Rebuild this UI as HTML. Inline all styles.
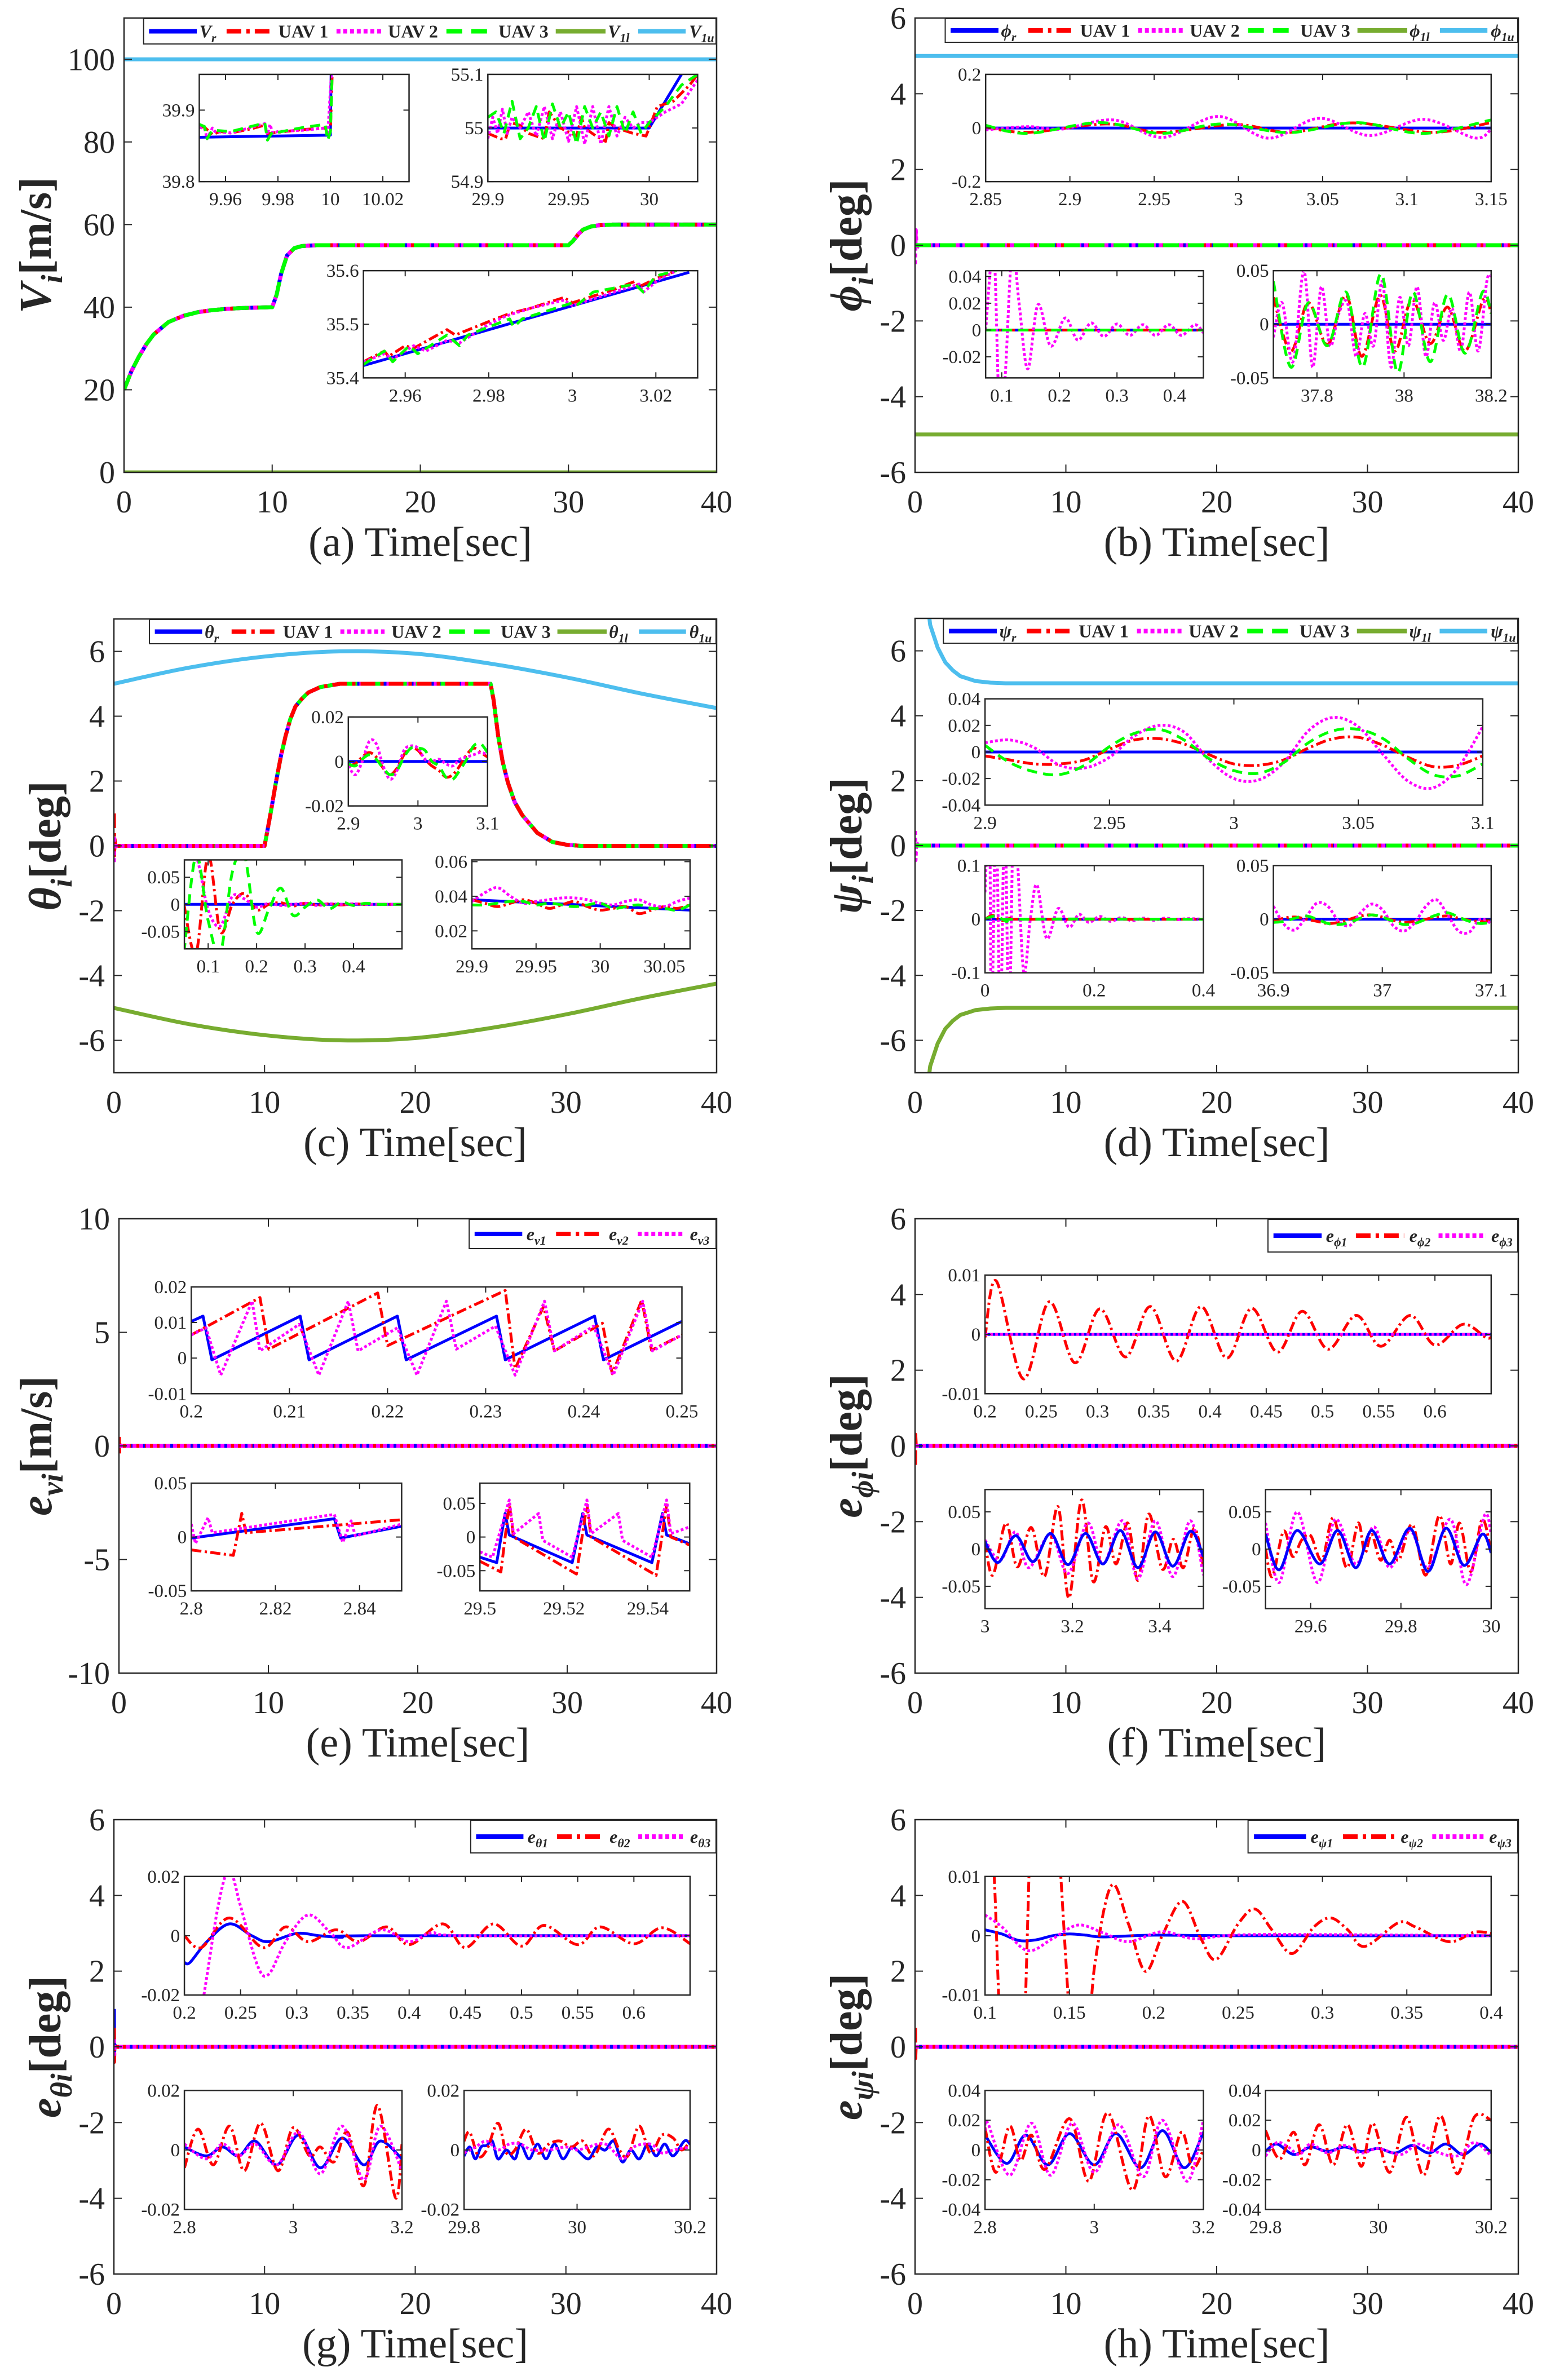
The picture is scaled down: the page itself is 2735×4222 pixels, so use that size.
<!DOCTYPE html>
<html><head><meta charset="utf-8"><title>UAV tracking results</title>
<style>
html,body{margin:0;padding:0;background:#fff;}
svg{display:block;font-family:"Liberation Serif","DejaVu Serif",serif;}
</style></head>
<body>
<svg id="fig" xmlns="http://www.w3.org/2000/svg" width="2735" height="4222" viewBox="0 0 2735 4222">
<rect x="0" y="0" width="2735" height="4222" fill="#ffffff"/>
</svg>
<script>
// ===================== DATA =====================
// (a) speed
const aTime=[0,0.5,1,1.5,2,3,4,5,6,7,8,9,10,10.3,10.6,11,11.5,12,13,15,20,25,30,30.3,30.7,31,31.5,32,33,35,40];
const aVr=[20,24.5,28,31,33.4,36.4,37.9,38.8,39.3,39.6,39.8,39.9,40,43,48,52.5,54.3,54.8,55,55,55,55,55,56,57.8,58.8,59.5,59.8,60,60,60];
const aBoundT=[0,40];
const aLower=[0,0];
const aUpper=[100,100];
const a1VrT=[9.95,10.0,10.0004];
const a1Vr=[39.862,39.865,39.99];
const a1U1T=[9.95,9.952,9.955,9.958,9.962,9.97,9.975,9.976,9.98,9.99,9.998,9.999,10.0,10.001];
const a1U1=[39.877,39.876,39.866,39.870,39.868,39.874,39.879,39.867,39.869,39.873,39.875,39.867,39.868,39.99];
const a1U2T=[9.95,9.952,9.953,9.955,9.956,9.962,9.975,9.976,9.977,9.978,9.98,9.99,9.998,9.999,10.001];
const a1U2=[39.876,39.874,39.860,39.875,39.870,39.868,39.881,39.866,39.880,39.868,39.870,39.872,39.875,39.867,39.99];
const a1U3T=[9.95,9.952,9.953,9.955,9.962,9.975,9.976,9.978,9.98,9.99,9.998,9.999,10.0,10.001];
const a1U3=[39.880,39.877,39.860,39.872,39.870,39.882,39.858,39.870,39.869,39.876,39.880,39.858,39.870,39.99];
const a2VrT=[29.9,30.0,30.02];
const a2Vr=[55,55,55.1];
const a2U1T=[29.9,29.908,29.911,29.914,29.92,29.925,29.935,29.938,29.945,29.955,29.958,29.96,29.967,29.973,29.975,29.98,29.99,29.998,30.0,30.005,30.015,30.025,30.03];
const a2U1=[54.99,54.98,54.98,55.01,55.005,54.99,54.98,55.03,55.0,54.985,55.02,55.0,54.985,54.975,55.01,55.0,54.99,54.985,55.0,55.04,55.05,55.08,55.1];
const a2U2T=[29.9,29.903,29.906,29.909,29.912,29.915,29.92,29.925,29.93,29.935,29.94,29.945,29.95,29.955,29.96,29.965,29.97,29.975,29.98,29.985,29.99,29.995,30.0,30.01,30.02,30.03];
const a2U2=[54.98,55.02,54.99,55.035,54.99,55.02,55.0,55.03,54.985,55.04,54.98,55.03,54.975,55.04,54.97,55.04,54.97,55.04,54.985,55.02,55.0,55.01,55.01,55.03,55.045,55.09];
const a2U3T=[29.9,29.905,29.91,29.915,29.92,29.925,29.93,29.935,29.94,29.945,29.95,29.955,29.96,29.965,29.97,29.975,29.98,29.985,29.99,29.995,30.0,30.01,30.02,30.03];
const a2U3=[55.02,55.03,54.99,55.05,54.98,55.0,55.04,54.975,55.045,55.0,55.03,54.97,55.04,55.0,55.03,54.985,55.04,54.99,55.03,54.99,55.01,55.04,55.08,55.1];
const a3VrT=[2.95,3.028];
const a3Vr=[35.423,35.597];
const a3U1T=[2.95,2.955,2.956,2.96,2.962,2.97,2.972,2.98,2.985,2.99,2.998,3.0,3.01,3.015,3.016,3.02,3.025];
const a3U1=[35.43,35.45,35.44,35.46,35.455,35.49,35.48,35.505,35.52,35.53,35.55,35.54,35.565,35.58,35.57,35.585,35.6];
const a3U2T=[2.95,2.955,2.957,2.962,2.965,2.97,2.973,2.98,2.984,2.99,2.998,3.0,3.01,3.016,3.017,3.021,3.025];
const a3U2=[35.43,35.445,35.435,35.46,35.45,35.47,35.465,35.5,35.515,35.53,35.545,35.535,35.56,35.575,35.56,35.585,35.6];
const a3U3T=[2.95,2.955,2.957,2.961,2.963,2.97,2.973,2.975,2.985,2.986,2.988,3.0,3.001,3.005,3.015,3.017,3.02,3.025];
const a3U3=[35.425,35.45,35.43,35.46,35.445,35.48,35.46,35.48,35.51,35.495,35.51,35.54,35.535,35.56,35.575,35.56,35.59,35.6];

// (b) roll
const bT=[0,40];
const bZero=[0,0];
const bLower=[-5,-5];
const bUpper=[5,5];
const bSpikeT=[0,0.05,0.1,0.2,40];
const bSpikeU2=[-0.5,0.4,-0.1,0,0];
const btRedT=[2.85,2.875,2.922,2.954,2.998,3.03,3.068,3.115,3.15];
const btRed=[0.003,-0.016,0.015,-0.016,0.013,-0.016,0.019,-0.016,0.02];
const btGreenT=[2.85,2.875,2.918,2.954,2.99,3.03,3.07,3.11,3.15];
const btGreen=[0.01,-0.02,0.02,-0.02,0.015,-0.017,0.02,-0.02,0.03];
const btMagT=[2.85,2.875,2.895,2.926,2.955,2.988,3.018,3.048,3.078,3.11,3.14,3.15];
const btMag=[-0.007,0.005,-0.004,0.03,-0.035,0.043,-0.038,0.036,-0.028,0.032,-0.037,-0.005];
const bblMagT=[0.072,0.086,0.095,0.105,0.118,0.13,0.145,0.163,0.185,0.21,0.232,0.255,0.277,0.3,0.322,0.345,0.367,0.39,0.412,0.435,0.45];
const bblMag=[0.0,0.06,-0.05,-0.04,0.06,0.02,-0.029,0.019,-0.012,0.009,-0.0075,0.0053,-0.0048,0.0045,-0.004,0.004,-0.004,0.004,-0.004,0.004,-0.002];
const bbrRedT=[37.7,37.74,37.78,37.824,37.867,37.903,37.945,37.979,38.018,38.06,38.1,38.14,38.182,38.2];
const bbrRed=[0.025,-0.025,0.02,-0.019,0.027,-0.03,0.027,-0.025,0.023,-0.018,0.016,-0.025,0.023,0.011];
const bbrGreenT=[37.7,37.74,37.78,37.824,37.867,37.905,37.947,37.985,38.02,38.06,38.1,38.14,38.18,38.2];
const bbrGreen=[0.04,-0.04,0.02,-0.02,0.03,-0.04,0.047,-0.045,0.03,-0.035,0.028,-0.027,0.03,0.01];
const bbrMagT=[37.7,37.72,37.745,37.77,37.79,37.81,37.83,37.85,37.87,37.89,37.91,37.93,37.95,37.97,37.99,38.01,38.03,38.05,38.07,38.09,38.11,38.13,38.15,38.17,38.19,38.2];
const bbrMag=[-0.012,0.02,-0.035,0.05,-0.04,0.035,-0.02,0.01,0.02,-0.03,0.01,-0.02,0.04,-0.04,0.025,-0.02,0.035,-0.03,0.02,-0.015,0.015,-0.025,0.03,-0.025,0.04,0.045];

// (c) pitch
const cT=[0,10,10.4,10.75,11.1,11.4,11.7,12.05,12.5,12.9,13.7,15,25,25.2,25.5,25.8,26.15,26.6,27.1,28.1,29.1,30.1,31,40];
const cTheta=[0,0,1.0,1.95,2.8,3.4,3.9,4.3,4.55,4.73,4.9,5,5,4.5,3.4,2.6,1.95,1.35,0.95,0.4,0.12,0.03,0,0];
const cBoundT=[0,5,10,15,20,25,30,35,40];
const cUpper=[5,5.5,5.84,6.0,5.93,5.62,5.2,4.7,4.25];
const cLower=[-5,-5.5,-5.84,-6.0,-5.93,-5.62,-5.2,-4.7,-4.25];
const cSpikeT=[0,0.02,0.05,0.1,0.2,10];
const cSpikeU1=[1.0,-0.3,0.2,0,0,0];
const cSpikeU2=[-0.5,0.3,-0.1,0,0,0];
const ctT=[2.9,2.91,2.92,2.93,2.94,2.95,2.96,2.97,2.98,2.99,3.0,3.01,3.02,3.03,3.04,3.05,3.06,3.07,3.08,3.09,3.1];
const ctRed=[-0.002,-0.001,0.002,0.004,0.002,-0.003,-0.006,-0.003,0.003,0.006,0.005,0.001,-0.002,-0.004,-0.007,-0.006,-0.002,0.003,0.006,0.004,0.002];
const ctMag=[-0.002,-0.006,0.0,0.009,0.008,-0.002,-0.008,-0.004,0.005,0.007,0.006,0.001,0.0,0.001,-0.001,-0.002,0.001,0.002,0.003,0.004,0.003];
const ctGreen=[-0.001,-0.002,0.001,0.003,0.001,-0.003,-0.006,-0.004,0.002,0.006,0.006,0.005,0.0,-0.002,-0.007,-0.008,-0.004,0.001,0.007,0.008,0.004];
const cblT=[0.05,0.075,0.1,0.125,0.15,0.175,0.2,0.225,0.25,0.275,0.3,0.325,0.35,0.375,0.4,0.425,0.45,0.475,0.5];
const cblRed=[0.0,-0.09,0.09,-0.05,0.0,0.02,-0.01,0.0,0.003,-0.003,0.002,-0.001,0.001,-0.001,0.001,0,0,0,0];
const cblMag=[0.09,0.09,-0.01,-0.04,0.015,0.01,-0.005,0.002,-0.002,0.0,0.002,-0.002,0.001,0.0,0.001,0,0,0,0];
const cblGreen=[-0.09,0.09,-0.03,-0.09,0.06,0.09,-0.05,-0.01,0.03,-0.02,-0.005,0.008,-0.008,0.004,-0.002,0.002,0,0,0];
const cbrBlueT=[29.9,30.07];
const cbrBlue=[0.038,0.032];
const cbrT=[29.9,29.91,29.92,29.93,29.94,29.95,29.96,29.97,29.98,29.99,30.0,30.01,30.02,30.03,30.04,30.05,30.06,30.07];
const cbrRed=[0.038,0.036,0.034,0.036,0.038,0.036,0.033,0.035,0.037,0.034,0.032,0.033,0.034,0.030,0.032,0.034,0.033,0.035];
const cbrMag=[0.037,0.042,0.045,0.04,0.036,0.037,0.038,0.039,0.039,0.038,0.036,0.035,0.037,0.038,0.035,0.034,0.037,0.039];
const cbrGreen=[0.035,0.035,0.036,0.037,0.037,0.035,0.036,0.035,0.034,0.035,0.036,0.033,0.034,0.035,0.033,0.033,0.032,0.035];

// (d) yaw
const dBoundT=[0.9,1,1.5,2,2.5,3,4,5,6,40];
const dUpper=[7.2,6.8,6.1,5.65,5.4,5.22,5.07,5.02,5,5];
const dLower=[-7.2,-6.8,-6.1,-5.65,-5.4,-5.22,-5.07,-5.02,-5,-5];
const dSpikeT=[0,0.03,0.08,0.2,40];
const dSpikeU2=[0.45,-0.45,0.1,0,0];
const dtT=[2.9,2.91,2.92,2.93,2.94,2.95,2.96,2.97,2.98,2.99,3.0,3.01,3.02,3.03,3.04,3.05,3.06,3.07,3.08,3.09,3.1];
const dtRed=[-0.003,-0.006,-0.009,-0.009,-0.006,0.002,0.009,0.01,0.006,-0.002,-0.009,-0.01,-0.006,0.003,0.01,0.011,0.005,-0.004,-0.011,-0.01,-0.003];
const dtGreen=[0.005,-0.008,-0.015,-0.017,-0.01,0.004,0.014,0.017,0.009,-0.005,-0.014,-0.016,-0.008,0.007,0.016,0.017,0.01,-0.005,-0.017,-0.018,-0.009];
const dtMag=[0.007,0.009,0.003,-0.01,-0.012,-0.004,0.012,0.02,0.015,-0.006,-0.02,-0.021,-0.008,0.016,0.026,0.019,-0.002,-0.022,-0.027,-0.012,0.019];
const dblMagT=[0,0.008,0.012,0.02,0.028,0.036,0.044,0.052,0.06,0.071,0.083,0.095,0.113,0.134,0.154,0.172,0.19,0.21,0.23,0.25,0.27,0.29,0.31,0.33,0.35,0.37,0.4];
const dblMag=[0.05,0.2,-0.2,0.2,-0.2,0.2,-0.2,0.2,0.1,-0.1,0.0,0.064,-0.036,0.02,-0.015,0.009,-0.006,0.005,-0.004,0.003,-0.003,0.002,-0.002,0.002,-0.001,0.001,0];
const dblRedT=[0,0.015,0.03,0.05,0.07,0.4];
const dblRed=[0,0.007,-0.003,0.002,0,0];
const dblGreenT=[0,0.02,0.04,0.06,0.4];
const dblGreen=[0,0.006,-0.004,0,0];
const dbrT=[36.9,36.91,36.92,36.93,36.94,36.95,36.96,36.97,36.98,36.99,37.0,37.01,37.02,37.03,37.04,37.05,37.06,37.07,37.08,37.09,37.1];
const dbrMag=[0.012,-0.005,-0.01,0.002,0.015,0.012,-0.002,-0.006,0.006,0.014,0.009,-0.006,-0.011,-0.003,0.012,0.018,0.004,-0.011,-0.012,0.0,-0.004];
const dbrRed=[-0.002,0.001,0.002,0.0,-0.002,-0.004,-0.003,0.0,0.003,0.004,0.002,-0.001,-0.003,-0.002,0.0,0.002,0.003,0.001,-0.001,-0.002,-0.001];
const dbrGreen=[-0.003,-0.002,0.001,0.003,0.0,-0.004,-0.005,-0.003,0.001,0.004,0.002,-0.002,-0.005,-0.004,0.0,0.004,0.006,0.002,-0.002,-0.004,-0.003];

// (e) speed errors
const eT=[0,40];
const eZero=[0,0];
const eSpikeT=[0,0.01,0.02,0.1,40];
const eSpikeU2=[0.4,-0.4,0.1,0,0];
const etBlueT=[0.2,0.2012,0.2021,0.2111,0.212,0.221,0.2219,0.2311,0.232,0.2411,0.242,0.25];
const etBlue=[0.0103,0.0118,-0.0005,0.0118,-0.0005,0.0118,-0.0005,0.0118,-0.0005,0.0118,-0.0005,0.0103];
const etRedT=[0.2,0.207,0.2079,0.219,0.22,0.232,0.233,0.2359,0.237,0.2419,0.2429,0.2459,0.2469,0.25];
const etRed=[0.0065,0.017,0.0025,0.0183,0.0035,0.019,-0.003,0.0145,0.002,0.0098,-0.0044,0.0163,0.0022,0.0065];
const etMagT=[0.2,0.2015,0.203,0.2062,0.207,0.211,0.213,0.216,0.217,0.221,0.223,0.226,0.227,0.231,0.233,0.236,0.237,0.241,0.243,0.246,0.247,0.25];
const etMag=[0.0065,0.0085,-0.0048,0.016,0.002,0.0095,-0.0048,0.016,0.002,0.0085,-0.0048,0.016,0.0025,0.009,-0.0048,0.016,0.002,0.009,-0.0048,0.016,0.002,0.0065];
const eblBlueT=[2.8,2.834,2.8355,2.85];
const eblBlue=[-0.001,0.017,-0.001,0.01];
const eblRedT=[2.8,2.81,2.812,2.813,2.85];
const eblRed=[-0.012,-0.017,0.022,0.004,0.016];
const eblMagT=[2.8,2.801,2.804,2.805,2.834,2.836,2.838,2.839,2.85];
const eblMag=[0.012,-0.006,0.018,0.004,0.021,-0.005,0.015,0.001,0.012];
const ebrBlueT=[29.5,29.504,29.506,29.507,29.522,29.5245,29.5255,29.541,29.5435,29.5445,29.55];
const ebrBlue=[-0.03,-0.038,0.035,0.003,-0.038,0.035,0.003,-0.038,0.035,0.003,-0.01];
const ebrRedT=[29.5,29.505,29.507,29.508,29.523,29.5255,29.5265,29.542,29.5445,29.5455,29.55];
const ebrRed=[-0.036,-0.052,0.05,0.0,-0.055,0.048,0.0,-0.057,0.048,0.0,-0.012];
const ebrMagT=[29.5,29.503,29.507,29.508,29.514,29.515,29.522,29.5255,29.5265,29.533,29.534,29.541,29.5445,29.5455,29.55];
const ebrMag=[-0.022,-0.03,0.055,0.005,0.035,-0.005,-0.03,0.055,0.005,0.035,-0.005,-0.03,0.055,0.005,0.015];

// (f) roll errors
const fSpikeT=[0,0.01,0.05,40];
const fSpikeU2=[-0.5,0.3,0,0];
const ftRedT=[0.2,0.21,0.234,0.257,0.28,0.302,0.325,0.347,0.37,0.392,0.415,0.437,0.46,0.482,0.505,0.53,0.552,0.578,0.6,0.625,0.645,0.65];
const ftRed=[-0.0005,0.009,-0.0075,0.0055,-0.0048,0.0043,-0.0038,0.0047,-0.0045,0.0047,-0.004,0.0044,-0.003,0.0039,-0.0025,0.0032,-0.002,0.0032,-0.0018,0.0017,-0.0005,-0.0005];
const fZeroT=[0.2,0.65];
const fZeroV=[0,0];
const fblBlueT=[3.0,3.03,3.07,3.11,3.15,3.19,3.23,3.27,3.31,3.35,3.39,3.43,3.47,3.5];
const fblBlue=[0.01,-0.018,0.018,-0.017,0.021,-0.021,0.021,-0.02,0.025,-0.025,0.023,-0.023,0.024,-0.01];
const fblRedT=[3.0,3.018,3.048,3.074,3.106,3.136,3.167,3.192,3.221,3.248,3.276,3.3,3.327,3.35,3.375,3.406,3.431,3.454,3.479,3.499];
const fblRed=[0.009,-0.035,0.035,-0.024,0.029,-0.037,0.057,-0.066,0.066,-0.044,0.03,-0.02,0.035,-0.042,0.047,-0.027,0.013,-0.025,0.028,-0.02];
const fblMagT=[3.0,3.035,3.07,3.1,3.15,3.19,3.235,3.27,3.315,3.35,3.39,3.43,3.47,3.5];
const fblMag=[0.012,-0.015,0.023,-0.025,0.02,-0.033,0.035,-0.02,0.038,-0.04,0.038,-0.037,0.038,-0.035];
const fbrBlueT=[29.5,29.53,29.57,29.62,29.66,29.7,29.735,29.775,29.82,29.86,29.9,29.94,29.98,30];
const fbrBlue=[0.02,-0.028,0.025,-0.02,0.025,-0.025,0.025,-0.02,0.028,-0.03,0.028,-0.022,0.02,-0.005];
const fbrRedT=[29.5,29.515,29.54,29.56,29.58,29.6,29.625,29.65,29.68,29.705,29.72,29.735,29.755,29.775,29.795,29.825,29.855,29.885,29.91,29.93,29.955,29.98,30];
const fbrRed=[0.0,-0.037,0.024,-0.01,0.012,0.018,-0.015,0.042,-0.025,0.035,-0.005,0.02,-0.015,0.012,-0.015,0.033,-0.035,0.045,-0.02,0.035,-0.03,0.04,-0.005];
const fbrMagT=[29.5,29.53,29.57,29.615,29.655,29.7,29.74,29.775,29.82,29.86,29.91,29.945,29.985,30];
const fbrMag=[0.035,-0.045,0.05,-0.045,0.04,-0.02,0.03,-0.025,0.025,-0.025,0.04,-0.048,0.045,0.02];

// (g) pitch errors
const gSpikeT=[0,0.01,0.05,0.1,40];
const gSpikeU1=[1.0,-0.2,0.05,0,0];
const gSpikeU2=[0.5,-0.4,0.1,0,0];
const gSpikeU3=[0.2,-0.2,0,0,0];
const gtBlueT=[0.2,0.205,0.22,0.24,0.26,0.275,0.3,0.32,0.34,0.36,0.65];
const gtBlue=[-0.009,-0.009,-0.002,0.004,0.0,-0.002,0.0008,0.0,-0.0005,0.0,0.0];
const gtRedT=[0.2,0.215,0.24,0.27,0.29,0.31,0.335,0.355,0.38,0.4,0.43,0.45,0.475,0.5,0.52,0.55,0.57,0.6,0.625,0.65];
const gtRed=[0.0,-0.004,0.006,-0.004,0.003,-0.002,0.002,-0.002,0.003,-0.003,0.004,-0.004,0.004,-0.0035,0.0035,-0.003,0.003,-0.0027,0.0027,-0.0027];
const gtMagT=[0.2,0.215,0.23,0.24,0.25,0.265,0.275,0.29,0.31,0.33,0.345,0.375,0.4,0.42,0.45,0.65];
const gtMag=[-0.05,-0.025,0.01,0.022,0.01,-0.01,-0.013,-0.002,0.007,0.001,-0.004,0.002,-0.002,0.001,0.0,0.0];
const gblBlueT=[2.8,2.84,2.87,2.9,2.93,2.97,3.01,3.05,3.09,3.13,3.16,3.2];
const gblBlue=[0.001,-0.002,0.001,-0.002,0.003,-0.005,0.005,-0.006,0.004,-0.005,0.003,-0.003];
const gblRedT=[2.8,2.825,2.853,2.883,2.91,2.94,2.972,3.0,3.03,3.05,3.075,3.1,3.13,3.155,3.188,3.2];
const gblRed=[-0.006,0.007,-0.005,0.008,-0.007,0.009,-0.007,0.0075,-0.002,0.001,-0.004,0.006,-0.012,0.015,-0.016,0.002];
const gblMagT=[2.8,2.84,2.87,2.9,2.93,2.97,3.01,3.05,3.09,3.13,3.16,3.2];
const gblMag=[0.002,-0.003,0.002,-0.002,0.002,-0.005,0.006,-0.008,0.008,-0.01,0.008,-0.007];
const gbrBlueT=[29.8,29.81,29.82,29.83,29.84,29.85,29.86,29.875,29.89,29.9,29.915,29.93,29.945,29.96,29.975,29.99,30.0,30.02,30.035,30.05,30.065,30.08,30.095,30.11,30.125,30.14,30.155,30.17,30.19,30.2];
const gbrBlue=[-0.002,0.001,-0.003,0.001,0.0015,0.003,-0.003,0.0,-0.003,0.002,-0.003,0.002,-0.003,0.002,-0.003,0.001,0.0,-0.003,0.001,0.0,0.003,-0.004,0.0,-0.003,0.002,-0.002,0.002,-0.002,0.003,0.002];
const gbrRedT=[29.8,29.81,29.825,29.84,29.86,29.875,29.89,29.91,29.93,29.95,29.97,29.99,30.01,30.03,30.055,30.075,30.09,30.11,30.13,30.15,30.17,30.185,30.2];
const gbrRed=[0.003,0.006,-0.002,0.0,0.009,-0.001,0.0,0.007,-0.001,0.002,0.003,0.001,0.003,-0.002,0.007,0.0,-0.002,0.008,-0.001,0.005,0.004,0.0,0.003];
const gbrMagT=[29.8,29.82,29.84,29.86,29.88,29.9,29.92,29.95,29.98,30.0,30.02,30.05,30.08,30.1,30.13,30.15,30.17,30.2];
const gbrMag=[-0.001,0.001,0.003,0.0,0.002,0.002,0.0,0.0,0.001,0.0,0.001,0.002,-0.003,0.001,0.002,-0.001,0.0,0.001];

// (h) yaw errors
const hSpikeT=[0,0.01,0.05,0.1,40];
const hSpikeU2=[0.5,-0.3,0.1,0,0];
const htBlueT=[0.1,0.11,0.12,0.13,0.14,0.15,0.16,0.17,0.2,0.25,0.4];
const htBlue=[0.001,0.0003,-0.0008,-0.0007,0.0,0.0003,0.0001,-0.0002,0.0001,0.0,0.0];
const htRedT=[0.1,0.105,0.11,0.12,0.13,0.14,0.155,0.165,0.175,0.185,0.195,0.205,0.217,0.228,0.237,0.25,0.26,0.27,0.282,0.295,0.305,0.315,0.325,0.345,0.355,0.375,0.39,0.4];
const htRed=[0.02,0.012,-0.02,-0.04,0.04,0.03,-0.03,-0.005,0.0085,0.002,-0.006,0.0,0.0058,-0.0005,-0.004,0.002,0.0045,0.001,-0.003,0.0015,0.003,0.001,-0.0018,0.0022,0.0015,-0.001,0.0006,0.0004];
const htMagT=[0.1,0.11,0.125,0.14,0.155,0.17,0.185,0.205,0.225,0.26,0.4];
const htMag=[0.0035,0.0015,-0.0025,-0.0005,0.0018,0.0005,-0.001,0.0007,-0.0005,0.0002,0.0];
const hblBlueT=[2.8,2.84,2.875,2.915,2.955,3.0,3.04,3.085,3.125,3.165,3.2];
const hblBlue=[0.01,-0.009,0.01,-0.01,0.011,-0.01,0.011,-0.012,0.013,-0.012,0.012];
const hblRedT=[2.8,2.82,2.845,2.865,2.885,2.91,2.955,2.99,3.025,3.07,3.1,3.13,3.16,3.18,3.2];
const hblRed=[0.015,-0.015,0.016,-0.007,0.01,-0.013,0.021,-0.021,0.025,-0.027,0.023,-0.018,0.012,-0.012,0.0];
const hblMagT=[2.8,2.805,2.845,2.885,2.92,2.96,3.0,3.045,3.09,3.125,3.17,3.2];
const hblMag=[0.013,0.018,-0.017,0.018,-0.017,0.018,-0.015,0.017,-0.018,0.02,-0.021,0.02];
const hbrBlueT=[29.8,29.82,29.85,29.88,29.91,29.94,29.97,30.0,30.03,30.06,30.09,30.12,30.15,30.18,30.2];
const hbrBlue=[-0.001,0.004,-0.003,0.002,-0.001,0.002,-0.001,0.001,-0.002,0.003,-0.002,0.004,-0.003,0.004,-0.002];
const hbrRedT=[29.8,29.825,29.85,29.87,29.895,29.92,29.945,29.97,29.99,30.02,30.05,30.08,30.11,30.14,30.17,30.2];
const hbrRed=[0.013,-0.006,0.012,-0.01,0.017,-0.01,0.017,-0.011,0.018,-0.015,0.022,-0.017,0.023,-0.016,0.022,0.02];
const hbrMagT=[29.8,29.82,29.84,29.86,29.88,29.91,29.94,29.97,30.0,30.04,30.07,30.1,30.14,30.17,30.2];
const hbrMag=[-0.004,0.005,0.002,-0.003,0.004,-0.002,0.003,-0.002,0.001,-0.003,0.004,-0.001,-0.004,0.005,-0.004];

// tick values
const mainXTicks=[0,10,20,30,40];
const aYTicks=[0,20,40,60,80,100];
const degYTicks=[-6,-4,-2,0,2,4,6];
const eYTicks=[-10,-5,0,5,10];

// ===================== RENDERING =====================
const NS='http://www.w3.org/2000/svg';
const svg=document.getElementById('fig');
let clipN=0;
function mk(tag,parent){const e=document.createElementNS(NS,tag);parent.appendChild(e);return e;}
function setA(e,o){for(const k in o)e.setAttribute(k,o[k]);}
const COL={blue:'#0000ff',red:'#ff0000',mag:'#ff00ff',green:'#00ff00',olive:'#77ac30',sky:'#4dbeee'};
function dashFor(kind,w){
  if(kind==='red')return w>6?'26 9 6 9':'18 6 4 6';
  if(kind==='mag')return w>6?'7 5':'5 4';
  if(kind==='green')return w>6?'28 16':'18 11';
  return null;
}
function axes(name,box,xlim,ylim,xt,yt,inset){
  const [x0,y0,x1,y1]=box;
  const sx=v=>x0+(v-xlim[0])/(xlim[1]-xlim[0])*(x1-x0);
  const sy=v=>y1-(v-ylim[0])/(ylim[1]-ylim[0])*(y1-y0);
  const g=mk('g',svg);
  
  
  const bg=mk('rect',g);
  setA(bg,{x:x0,y:y0,width:x1-x0,height:y1-y0,fill:'#ffffff'});
  
  
  const id='clip'+(clipN++);
  const cp=mk('clipPath',g);cp.setAttribute('id',id);
  const cr=mk('rect',cp);setA(cr,{x:x0,y:y0,width:x1-x0,height:y1-y0});
  const plot=mk('g',g);plot.setAttribute('clip-path','url(#'+id+')');
  
  
  const tl=inset?10:14, fs=inset?33:56;
  const tg=mk('g',g);
  
  
  xt.forEach(v=>{
    const x=sx(v);
    const t1=mk('line',tg);setA(t1,{x1:x,y1:y1,x2:x,y2:y1-tl,stroke:'#262626','stroke-width':2});
    const t2=mk('line',tg);setA(t2,{x1:x,y1:y0,x2:x,y2:y0+tl,stroke:'#262626','stroke-width':2});
    const lb=mk('text',tg);
    setA(lb,{x:x,y:y1+(inset?42:71),'text-anchor':'middle','font-size':fs,fill:'#262626'});
    lb.textContent=String(v);
    
    
  });
  yt.forEach(v=>{
    const y=sy(v);
    const t1=mk('line',tg);setA(t1,{x1:x0,y1:y,x2:x0+tl,y2:y,stroke:'#262626','stroke-width':2});
    const t2=mk('line',tg);setA(t2,{x1:x1,y1:y,x2:x1-tl,y2:y,stroke:'#262626','stroke-width':2});
    const lb=mk('text',tg);
    setA(lb,{x:x0-(inset?8:16),y:y+(inset?11:19),'text-anchor':'end','font-size':fs,fill:'#262626'});
    lb.textContent=String(v);
    
    
  });
  const fr=mk('rect',g);
  setA(fr,{x:x0,y:y0,width:x1-x0,height:y1-y0,fill:'none',stroke:'#262626','stroke-width':2.5});
  
  
  return {sx,sy,plot,g,box};
}
function series(ax,xs,ys,kind,w,name,smooth){
  const pts=xs.map((x,i)=>[ax.sx(x),ax.sy(ys[i])]);
  let d='M'+pts[0][0].toFixed(1)+','+pts[0][1].toFixed(1);
  for(let i=0;i<pts.length-1;i++){
    const p1=pts[i],p2=pts[i+1];
    if(smooth){
      const p0=pts[Math.max(0,i-1)],p3=pts[Math.min(pts.length-1,i+2)];
      const c1=[p1[0]+(p2[0]-p0[0])/6,p1[1]+(p2[1]-p0[1])/6];
      const c2=[p2[0]-(p3[0]-p1[0])/6,p2[1]-(p3[1]-p1[1])/6];
      d+='C'+c1[0].toFixed(1)+','+c1[1].toFixed(1)+' '+c2[0].toFixed(1)+','+c2[1].toFixed(1)+' '+p2[0].toFixed(1)+','+p2[1].toFixed(1);
    } else d+='L'+p2[0].toFixed(1)+','+p2[1].toFixed(1);
  }
  const p=mk('path',ax.plot);
  setA(p,{d:d,fill:'none',stroke:COL[kind],'stroke-width':w,'stroke-linejoin':'round','stroke-linecap':'butt'});
  const da=dashFor(kind,w);if(da)p.setAttribute('stroke-dasharray',da);
  
  
  return p;
}
function rich(parent,x,y,parts,fs,anchor,weight){
  const t=mk('text',parent);
  setA(t,{x:x,y:y,'font-size':fs,'text-anchor':anchor||'start',fill:'#262626','font-weight':weight||'normal'});
  let shift=0;
  parts.forEach(pt=>{
    const s=mk('tspan',t);
    s.textContent=pt[0];
    if(pt[1]==='it')s.setAttribute('font-style','italic');
    if(pt[1]==='sub'){
      s.setAttribute('font-style','italic');
      s.setAttribute('font-size',fs*0.68);
      s.setAttribute('dy',fs*0.25-shift);shift=fs*0.25;
    } else if(shift){s.setAttribute('dy',-shift);shift=0;}
  });
  return t;
}
const L6={ls:[0.0095,0.145,0.337,0.529,0.72,0.864],le:[0.093,0.223,0.415,0.607,0.807,0.947],tx:[0.0975,0.2355,0.427,0.62,0.811,0.953]};
const L3={ls:[0.022,0.352,0.683],le:[0.215,0.545,0.873],tx:[0.232,0.566,0.894]};
function legend(ax,name,f0,h,entries,lay){
  const [x0,y0,x1,y1]=ax.box;
  const lx=x0+f0*(x1-x0), lw=x1-lx-1;
  const g=mk('g',ax.g);
  
  
  const r=mk('rect',g);setA(r,{x:lx,y:y0+1,width:lw,height:h,fill:'#ffffff',stroke:'#262626','stroke-width':2});
  entries.forEach((en,i)=>{
    const eg=mk('g',g);
    
    
    const yy=y0+h/2+1;
    const ln=mk('line',eg);
    setA(ln,{x1:lx+lay.ls[i]*lw,x2:lx+lay.le[i]*lw,y1:yy,y2:yy,stroke:COL[en[0]],'stroke-width':8});
    const da=dashFor(en[0],8);if(da)ln.setAttribute('stroke-dasharray',da);
    rich(eg,lx+lay.tx[i]*lw,yy+11,en[1],32,'start','bold');
  });
}
function labels(ax,letter,yparts,yoff){
  const [x0,y0,x1,y1]=ax.box;
  const xl=mk('text',svg);
  setA(xl,{x:(x0+x1)/2,y:y1+148,'text-anchor':'middle','font-size':74,fill:'#262626'});
  xl.textContent='('+letter+') Time[sec]';
  
  
  const gy=mk('g',svg);
  gy.setAttribute('transform','translate('+(x0-yoff)+','+((y0+y1)/2)+') rotate(-90)');
  
  
  rich(gy,0,0,yparts,80,'middle','bold');
}
function ibox(ax,fx0,fx1,fy0,fy1){
  const [x0,y0,x1,y1]=ax.box,w=x1-x0,h=y1-y0;
  return [x0+fx0*w,y0+fy0*h,x0+fx1*w,y0+fy1*h];
}
const MW=7, IW=5;

// ---------- (a) ----------
const A=axes('panel-a-speed',[220,32,1271,838],[0,40],[0,110],mainXTicks,aYTicks,false);
series(A,aBoundT,aUpper,'sky',MW,'speed-upper-bound',false);
series(A,aBoundT,aLower,'olive',MW,'speed-lower-bound',false);
series(A,aTime,aVr,'blue',MW,'speed-reference',false);
series(A,aTime,aVr,'red',MW,'speed-uav1',false);
series(A,aTime,aVr,'mag',MW,'speed-uav2',false);
series(A,aTime,aVr,'green',MW,'speed-uav3',false);
legend(A,'legend-a',0.033,45,[['blue',[['V','it'],['r','sub']],'vr'],['red',[['UAV 1','n']],'uav1'],['mag',[['UAV 2','n']],'uav2'],['green',[['UAV 3','n']],'uav3'],['olive',[['V','it'],['1l','sub']],'v1l'],['sky',[['V','it'],['1u','sub']],'v1u']],L6);
let I=axes('inset-a-10s',ibox(A,0.127,0.481,0.124,0.360),[9.95,10.03],[39.8,39.95],[9.96,9.98,10,10.02],[39.8,39.9],true);
series(I,a1VrT,a1Vr,'blue',IW,'inset-a1-reference',false);
series(I,a1U1T,a1U1,'red',IW,'inset-a1-uav1',false);
series(I,a1U2T,a1U2,'mag',IW,'inset-a1-uav2',false);
series(I,a1U3T,a1U3,'green',IW,'inset-a1-uav3',false);
I=axes('inset-a-30s',ibox(A,0.614,0.968,0.124,0.360),[29.9,30.03],[54.9,55.1],[29.9,29.95,30],[54.9,55,55.1],true);
series(I,a2VrT,a2Vr,'blue',IW,'inset-a2-reference',false);
series(I,a2U1T,a2U1,'red',IW,'inset-a2-uav1',false);
series(I,a2U2T,a2U2,'mag',IW,'inset-a2-uav2',false);
series(I,a2U3T,a2U3,'green',IW,'inset-a2-uav3',false);
I=axes('inset-a-3s',ibox(A,0.404,0.968,0.556,0.792),[2.95,3.03],[35.4,35.6],[2.96,2.98,3,3.02],[35.4,35.5,35.6],true);
series(I,a3VrT,a3Vr,'blue',IW,'inset-a3-reference',false);
series(I,a3U1T,a3U1,'red',IW,'inset-a3-uav1',false);
series(I,a3U2T,a3U2,'mag',IW,'inset-a3-uav2',false);
series(I,a3U3T,a3U3,'green',IW,'inset-a3-uav3',false);
labels(A,'a',[['V','it'],['i','sub'],['[m/s]','n']],130);

// ---------- (b) ----------
const B=axes('panel-b-roll',[1623,32,2693,838],[0,40],[-6,6],mainXTicks,degYTicks,false);
series(B,bT,bUpper,'sky',MW,'roll-upper-bound',false);
series(B,bT,bLower,'olive',MW,'roll-lower-bound',false);
series(B,bT,bZero,'blue',MW,'roll-reference',false);
series(B,bT,bZero,'red',MW,'roll-uav1',false);
series(B,bSpikeT,bSpikeU2,'mag',MW,'roll-uav2',false);
series(B,bT,bZero,'green',MW,'roll-uav3',false);
legend(B,'legend-b',0.05,42,[['blue',[['ϕ','it'],['r','sub']],'phir'],['red',[['UAV 1','n']],'uav1'],['mag',[['UAV 2','n']],'uav2'],['green',[['UAV 3','n']],'uav3'],['olive',[['ϕ','it'],['1l','sub']],'phi1l'],['sky',[['ϕ','it'],['1u','sub']],'phi1u']],L6);
I=axes('inset-b-3s',ibox(B,0.117,0.955,0.124,0.360),[2.85,3.15],[-0.2,0.2],[2.85,2.9,2.95,3,3.05,3.1,3.15],[-0.2,0,0.2],true);
series(I,[2.85,3.15],[0,0],'blue',IW,'inset-b1-reference',false);
series(I,btRedT,btRed,'red',IW,'inset-b1-uav1',true);
series(I,btMagT,btMag,'mag',IW,'inset-b1-uav2',true);
series(I,btGreenT,btGreen,'green',IW,'inset-b1-uav3',true);
I=axes('inset-b-start',ibox(B,0.117,0.478,0.556,0.792),[0.072,0.45],[-0.0357,0.0443],[0.1,0.2,0.3,0.4],[-0.02,0,0.02,0.04],true);
series(I,[0.072,0.45],[0,0],'blue',IW,'inset-b2-reference',false);
series(I,[0.072,0.45],[0,0],'red',IW,'inset-b2-uav1',false);
series(I,bblMagT,bblMag,'mag',IW,'inset-b2-uav2',true);
series(I,[0.072,0.45],[0,0],'green',IW,'inset-b2-uav3',false);
I=axes('inset-b-38s',ibox(B,0.594,0.955,0.556,0.792),[37.7,38.2],[-0.05,0.05],[37.8,38,38.2],[-0.05,0,0.05],true);
series(I,[37.7,38.2],[0,0],'blue',IW,'inset-b3-reference',false);
series(I,bbrRedT,bbrRed,'red',IW,'inset-b3-uav1',true);
series(I,bbrMagT,bbrMag,'mag',IW,'inset-b3-uav2',true);
series(I,bbrGreenT,bbrGreen,'green',IW,'inset-b3-uav3',true);
labels(B,'b',[['ϕ','it'],['i','sub'],['[deg]','n']],95);

// ---------- (c) ----------
const C=axes('panel-c-pitch',[202,1098,1271,1903],[0,40],[-7,7],mainXTicks,degYTicks,false);
series(C,cBoundT,cUpper,'sky',MW,'pitch-upper-bound',true);
series(C,cBoundT,cLower,'olive',MW,'pitch-lower-bound',true);
series(C,cT,cTheta,'blue',MW,'pitch-reference',false);
series(C,cT,cTheta,'mag',MW,'pitch-uav2',false);
series(C,cT,cTheta,'green',MW,'pitch-uav3',false);
series(C,cT,cTheta,'red',MW,'pitch-uav1',false);
series(C,cSpikeT,cSpikeU1,'red',MW,'pitch-uav1-start',false);
series(C,cSpikeT,cSpikeU2,'mag',MW,'pitch-uav2-start',false);
legend(C,'legend-c',0.059,43,[['blue',[['θ','it'],['r','sub']],'thetar'],['red',[['UAV 1','n']],'uav1'],['mag',[['UAV 2','n']],'uav2'],['green',[['UAV 3','n']],'uav3'],['olive',[['θ','it'],['1l','sub']],'theta1l'],['sky',[['θ','it'],['1u','sub']],'theta1u']],L6);
I=axes('inset-c-3s',ibox(C,0.389,0.620,0.216,0.412),[2.9,3.1],[-0.02,0.02],[2.9,3,3.1],[-0.02,0,0.02],true);
series(I,[2.9,3.1],[0,0],'blue',IW,'inset-c1-reference',false);
series(I,ctT,ctRed,'red',IW,'inset-c1-uav1',true);
series(I,ctT,ctMag,'mag',IW,'inset-c1-uav2',true);
series(I,ctT,ctGreen,'green',IW,'inset-c1-uav3',true);
I=axes('inset-c-start',ibox(C,0.117,0.478,0.531,0.727),[0.051,0.5],[-0.082,0.082],[0.1,0.2,0.3,0.4],[-0.05,0,0.05],true);
series(I,[0.051,0.5],[0,0],'blue',IW,'inset-c2-reference',false);
series(I,cblT,cblRed,'red',IW,'inset-c2-uav1',true);
series(I,cblT,cblMag,'mag',IW,'inset-c2-uav2',true);
series(I,cblT,cblGreen,'green',IW,'inset-c2-uav3',true);
I=axes('inset-c-30s',ibox(C,0.594,0.956,0.531,0.727),[29.9,30.07],[0.0096,0.061],[29.9,29.95,30,30.05],[0.02,0.04,0.06],true);
series(I,cbrBlueT,cbrBlue,'blue',IW,'inset-c3-reference',false);
series(I,cbrT,cbrRed,'red',IW,'inset-c3-uav1',true);
series(I,cbrT,cbrMag,'mag',IW,'inset-c3-uav2',true);
series(I,cbrT,cbrGreen,'green',IW,'inset-c3-uav3',true);
labels(C,'c',[['θ','it'],['i','sub'],['[deg]','n']],95);

// ---------- (d) ----------
const D=axes('panel-d-yaw',[1623,1097,2693,1903],[0,40],[-7,7],mainXTicks,degYTicks,false);
series(D,dBoundT,dUpper,'sky',MW,'yaw-upper-bound',false);
series(D,dBoundT,dLower,'olive',MW,'yaw-lower-bound',false);
series(D,bT,bZero,'blue',MW,'yaw-reference',false);
series(D,bT,bZero,'red',MW,'yaw-uav1',false);
series(D,dSpikeT,dSpikeU2,'mag',MW,'yaw-uav2',false);
series(D,bT,bZero,'green',MW,'yaw-uav3',false);
legend(D,'legend-d',0.047,43,[['blue',[['ψ','it'],['r','sub']],'psir'],['red',[['UAV 1','n']],'uav1'],['mag',[['UAV 2','n']],'uav2'],['green',[['UAV 3','n']],'uav3'],['olive',[['ψ','it'],['1l','sub']],'psi1l'],['sky',[['ψ','it'],['1u','sub']],'psi1u']],L6);
I=axes('inset-d-3s',ibox(D,0.116,0.941,0.177,0.411),[2.9,3.1],[-0.04,0.04],[2.9,2.95,3,3.05,3.1],[-0.04,-0.02,0,0.02,0.04],true);
series(I,[2.9,3.1],[0,0],'blue',IW,'inset-d1-reference',false);
series(I,dtT,dtRed,'red',IW,'inset-d1-uav1',true);
series(I,dtT,dtMag,'mag',IW,'inset-d1-uav2',true);
series(I,dtT,dtGreen,'green',IW,'inset-d1-uav3',true);
I=axes('inset-d-start',ibox(D,0.116,0.478,0.544,0.780),[0,0.4],[-0.1,0.1],[0,0.2,0.4],[-0.1,0,0.1],true);
series(I,[0,0.4],[0,0],'blue',IW,'inset-d2-reference',false);
series(I,dblMagT,dblMag,'mag',IW,'inset-d2-uav2',true);
series(I,dblRedT,dblRed,'red',IW,'inset-d2-uav1',true);
series(I,dblGreenT,dblGreen,'green',IW,'inset-d2-uav3',true);
I=axes('inset-d-37s',ibox(D,0.594,0.955,0.544,0.780),[36.9,37.1],[-0.05,0.05],[36.9,37,37.1],[-0.05,0,0.05],true);
series(I,[36.9,37.1],[0,0],'blue',IW,'inset-d3-reference',false);
series(I,dbrT,dbrRed,'red',IW,'inset-d3-uav1',true);
series(I,dbrT,dbrMag,'mag',IW,'inset-d3-uav2',true);
series(I,dbrT,dbrGreen,'green',IW,'inset-d3-uav3',true);
labels(D,'d',[['ψ','it'],['i','sub'],['[deg]','n']],95);

// ---------- (e) ----------
const E=axes('panel-e-speed-error',[211,2162,1271,2968],[0,40],[-10,10],mainXTicks,eYTicks,false);
series(E,eT,eZero,'blue',MW,'speed-error-1',false);
series(E,eSpikeT,eSpikeU2,'red',MW,'speed-error-2',false);
series(E,eT,eZero,'mag',MW,'speed-error-3',false);
legend(E,'legend-e',0.586,52,[['blue',[['e','it'],['v1','sub']],'ev1'],['red',[['e','it'],['v2','sub']],'ev2'],['mag',[['e','it'],['v3','sub']],'ev3']],L3);
I=axes('inset-e-start',ibox(E,0.121,0.942,0.150,0.385),[0.2,0.25],[-0.01,0.02],[0.2,0.21,0.22,0.23,0.24,0.25],[-0.01,0,0.01,0.02],true);
series(I,etBlueT,etBlue,'blue',IW,'inset-e1-error-1',false);
series(I,etRedT,etRed,'red',IW,'inset-e1-error-2',false);
series(I,etMagT,etMag,'mag',IW,'inset-e1-error-3',false);
I=axes('inset-e-3s',ibox(E,0.121,0.473,0.582,0.819),[2.8,2.85],[-0.05,0.05],[2.8,2.82,2.84],[-0.05,0,0.05],true);
series(I,eblBlueT,eblBlue,'blue',IW,'inset-e2-error-1',false);
series(I,eblRedT,eblRed,'red',IW,'inset-e2-error-2',false);
series(I,eblMagT,eblMag,'mag',IW,'inset-e2-error-3',false);
I=axes('inset-e-30s',ibox(E,0.604,0.955,0.582,0.819),[29.5,29.55],[-0.08,0.08],[29.5,29.52,29.54],[-0.05,0,0.05],true);
series(I,ebrBlueT,ebrBlue,'blue',IW,'inset-e3-error-1',false);
series(I,ebrRedT,ebrRed,'red',IW,'inset-e3-error-2',false);
series(I,ebrMagT,ebrMag,'mag',IW,'inset-e3-error-3',false);
labels(E,'e',[['e','it'],['vi','sub'],['[m/s]','n']],120);

// ---------- (f) ----------
const F=axes('panel-f-roll-error',[1623,2162,2693,2968],[0,40],[-6,6],mainXTicks,degYTicks,false);
series(F,bT,bZero,'blue',MW,'roll-error-1',false);
series(F,fSpikeT,fSpikeU2,'red',MW,'roll-error-2',false);
series(F,bT,bZero,'mag',MW,'roll-error-3',false);
legend(F,'legend-f',0.585,58,[['blue',[['e','it'],['ϕ1','sub']],'ephi1'],['red',[['e','it'],['ϕ2','sub']],'ephi2'],['mag',[['e','it'],['ϕ3','sub']],'ephi3']],L3);
I=axes('inset-f-start',ibox(F,0.116,0.955,0.124,0.385),[0.2,0.65],[-0.01,0.01],[0.2,0.25,0.3,0.35,0.4,0.45,0.5,0.55,0.6],[-0.01,0,0.01],true);
series(I,fZeroT,fZeroV,'blue',IW,'inset-f1-error-1',false);
series(I,ftRedT,ftRed,'red',IW,'inset-f1-error-2',true);
series(I,fZeroT,fZeroV,'mag',IW,'inset-f1-error-3',false);
I=axes('inset-f-3s',ibox(F,0.116,0.478,0.596,0.858),[3,3.5],[-0.08,0.08],[3,3.2,3.4],[-0.05,0,0.05],true);
series(I,fblRedT,fblRed,'red',IW,'inset-f2-error-2',true);
series(I,fblMagT,fblMag,'mag',IW,'inset-f2-error-3',true);
series(I,fblBlueT,fblBlue,'blue',IW,'inset-f2-error-1',true);
I=axes('inset-f-30s',ibox(F,0.581,0.955,0.596,0.858),[29.5,30],[-0.08,0.08],[29.6,29.8,30],[-0.05,0,0.05],true);
series(I,fbrRedT,fbrRed,'red',IW,'inset-f3-error-2',true);
series(I,fbrMagT,fbrMag,'mag',IW,'inset-f3-error-3',true);
series(I,fbrBlueT,fbrBlue,'blue',IW,'inset-f3-error-1',true);
labels(F,'f',[['e','it'],['ϕi','sub'],['[deg]','n']],95);

// ---------- (g) ----------
const G=axes('panel-g-pitch-error',[202,3228,1271,4034],[0,40],[-6,6],mainXTicks,degYTicks,false);
series(G,gSpikeT,gSpikeU1,'blue',MW,'pitch-error-1',false);
series(G,gSpikeT,gSpikeU2,'red',MW,'pitch-error-2',false);
series(G,gSpikeT,gSpikeU3,'mag',MW,'pitch-error-3',false);
legend(G,'legend-g',0.592,58,[['blue',[['e','it'],['θ1','sub']],'etheta1'],['red',[['e','it'],['θ2','sub']],'etheta2'],['mag',[['e','it'],['θ3','sub']],'etheta3']],L3);
I=axes('inset-g-start',ibox(G,0.117,0.956,0.125,0.386),[0.2,0.65],[-0.02,0.02],[0.2,0.25,0.3,0.35,0.4,0.45,0.5,0.55,0.6],[-0.02,0,0.02],true);
series(I,gtBlueT,gtBlue,'blue',IW,'inset-g1-error-1',true);
series(I,gtRedT,gtRed,'red',IW,'inset-g1-error-2',true);
series(I,gtMagT,gtMag,'mag',IW,'inset-g1-error-3',true);
I=axes('inset-g-3s',ibox(G,0.117,0.478,0.596,0.858),[2.8,3.2],[-0.02,0.02],[2.8,3,3.2],[-0.02,0,0.02],true);
series(I,gblBlueT,gblBlue,'blue',IW,'inset-g2-error-1',true);
series(I,gblRedT,gblRed,'red',IW,'inset-g2-error-2',true);
series(I,gblMagT,gblMag,'mag',IW,'inset-g2-error-3',true);
I=axes('inset-g-30s',ibox(G,0.581,0.956,0.596,0.858),[29.8,30.2],[-0.02,0.02],[29.8,30,30.2],[-0.02,0,0.02],true);
series(I,gbrBlueT,gbrBlue,'blue',IW,'inset-g3-error-1',true);
series(I,gbrRedT,gbrRed,'red',IW,'inset-g3-error-2',true);
series(I,gbrMagT,gbrMag,'mag',IW,'inset-g3-error-3',true);
labels(G,'g',[['e','it'],['θi','sub'],['[deg]','n']],95);

// ---------- (h) ----------
const Hx=axes('panel-h-yaw-error',[1623,3228,2693,4034],[0,40],[-6,6],mainXTicks,degYTicks,false);
series(Hx,bT,bZero,'blue',MW,'yaw-error-1',false);
series(Hx,hSpikeT,hSpikeU2,'red',MW,'yaw-error-2',false);
series(Hx,bT,bZero,'mag',MW,'yaw-error-3',false);
legend(Hx,'legend-h',0.552,58,[['blue',[['e','it'],['ψ1','sub']],'epsi1'],['red',[['e','it'],['ψ2','sub']],'epsi2'],['mag',[['e','it'],['ψ3','sub']],'epsi3']],L3);
I=axes('inset-h-start',ibox(Hx,0.116,0.955,0.125,0.386),[0.1,0.4],[-0.01,0.01],[0.1,0.15,0.2,0.25,0.3,0.35,0.4],[-0.01,0,0.01],true);
series(I,htBlueT,htBlue,'blue',IW,'inset-h1-error-1',true);
series(I,htRedT,htRed,'red',IW,'inset-h1-error-2',true);
series(I,htMagT,htMag,'mag',IW,'inset-h1-error-3',true);
I=axes('inset-h-3s',ibox(Hx,0.116,0.478,0.596,0.858),[2.8,3.2],[-0.04,0.04],[2.8,3,3.2],[-0.04,-0.02,0,0.02,0.04],true);
series(I,hblBlueT,hblBlue,'blue',IW,'inset-h2-error-1',true);
series(I,hblRedT,hblRed,'red',IW,'inset-h2-error-2',true);
series(I,hblMagT,hblMag,'mag',IW,'inset-h2-error-3',true);
I=axes('inset-h-30s',ibox(Hx,0.581,0.955,0.596,0.858),[29.8,30.2],[-0.04,0.04],[29.8,30,30.2],[-0.04,-0.02,0,0.02,0.04],true);
series(I,hbrBlueT,hbrBlue,'blue',IW,'inset-h3-error-1',true);
series(I,hbrRedT,hbrRed,'red',IW,'inset-h3-error-2',true);
series(I,hbrMagT,hbrMag,'mag',IW,'inset-h3-error-3',true);
labels(Hx,'h',[['e','it'],['ψi','sub'],['[deg]','n']],95);
</script>
</body></html>
